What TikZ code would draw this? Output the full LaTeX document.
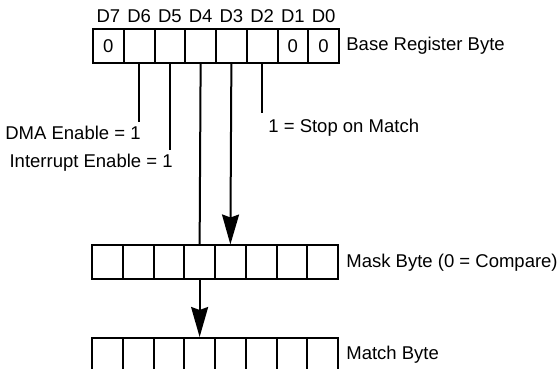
\documentclass[tikz,border=0pt]{standalone}
\usepackage{fontspec}
\setmainfont{Liberation Sans}
\usetikzlibrary{arrows.meta, positioning}
\tikzset{
  bitcell/.style={
    draw, line width=1pt, inner sep=0pt,
    minimum width=15.375pt, minimum height=17pt,
    font=\fontsize{9.25}{11}\selectfont
  },
  bitlabel/.style={
    inner sep=0pt, font=\fontsize{9.25}{11}\selectfont
  },
  regname/.style={
    inner sep=0pt, font=\fontsize{9.25}{11}\selectfont
  },
  bitline/.style={line width=1pt},
  bitarrow/.style={
    line width=1pt, -{Stealth[length=15pt, width=8.5pt, inset=1.5pt]}
  },
}

\begin{document}
\begin{tikzpicture}[x=0.5pt, y=-0.5pt]
  \useasboundingbox (0,0) rectangle (558,369);
  \clip (0,0) rectangle (558,369);

  % ── Base register byte ─────────────────────────────────────────
  \foreach \i/\v in {7/0, 6/{}, 5/{}, 4/{}, 3/{}, 2/{}, 1/0, 0/0} {
    \node[bitcell] (base\i) at ({108.375+30.75*(7-\i)}, 46) {\v};
    \node[bitlabel, above=2.5pt of base\i] (d\i) {D\i};
  }
  \node[regname, right=3pt of base0] (basename) {Base Register Byte};

  % ── Mask byte ──────────────────────────────────────────────────
  \foreach \i in {0,...,7} {
    \node[bitcell] (mask\i) at ({107.375+30.75*(7-\i)}, 262.5) {};
  }
  \node[regname, right=3.5pt of mask0] (maskname) {Mask Byte (0 = Compare)};

  % ── Match byte (runs off the bottom) ───────────────────────────
  \foreach \i in {0,...,7} {
    \node[bitcell] (match\i) at ({107.375+30.75*(7-\i)}, 355) {};
  }
  \node[regname, right=3.5pt of match0] (matchname) {Match Byte};

  % Bit labels
  \node[regname, anchor=east] (dma) at (141, 133) {DMA Enable = 1};
  \node[regname, anchor=east] (intr) at (173, 163) {Interrupt Enable = 1};
  \node[regname, anchor=west] (stop) at (268, 128) {1 = Stop on Match};

  % ── Lines and arrows ───────────────────────────────────────────
  \draw[bitline] (base6.south) -- ([yshift=2pt]base6.south |- dma.north);
  \draw[bitline] (base5.south) -- ([yshift=2pt]base5.south |- intr.north);
  \draw[bitline] (base2.south) -- ([yshift=3pt]base2.south |- stop.north);
  \draw[bitline] (base4.south) -- (mask4.north);
  \draw[bitarrow] (base3.south) -- (mask3.north);
  \draw[bitarrow] (mask4.south) -- (match4.north);
\end{tikzpicture}
\end{document}
